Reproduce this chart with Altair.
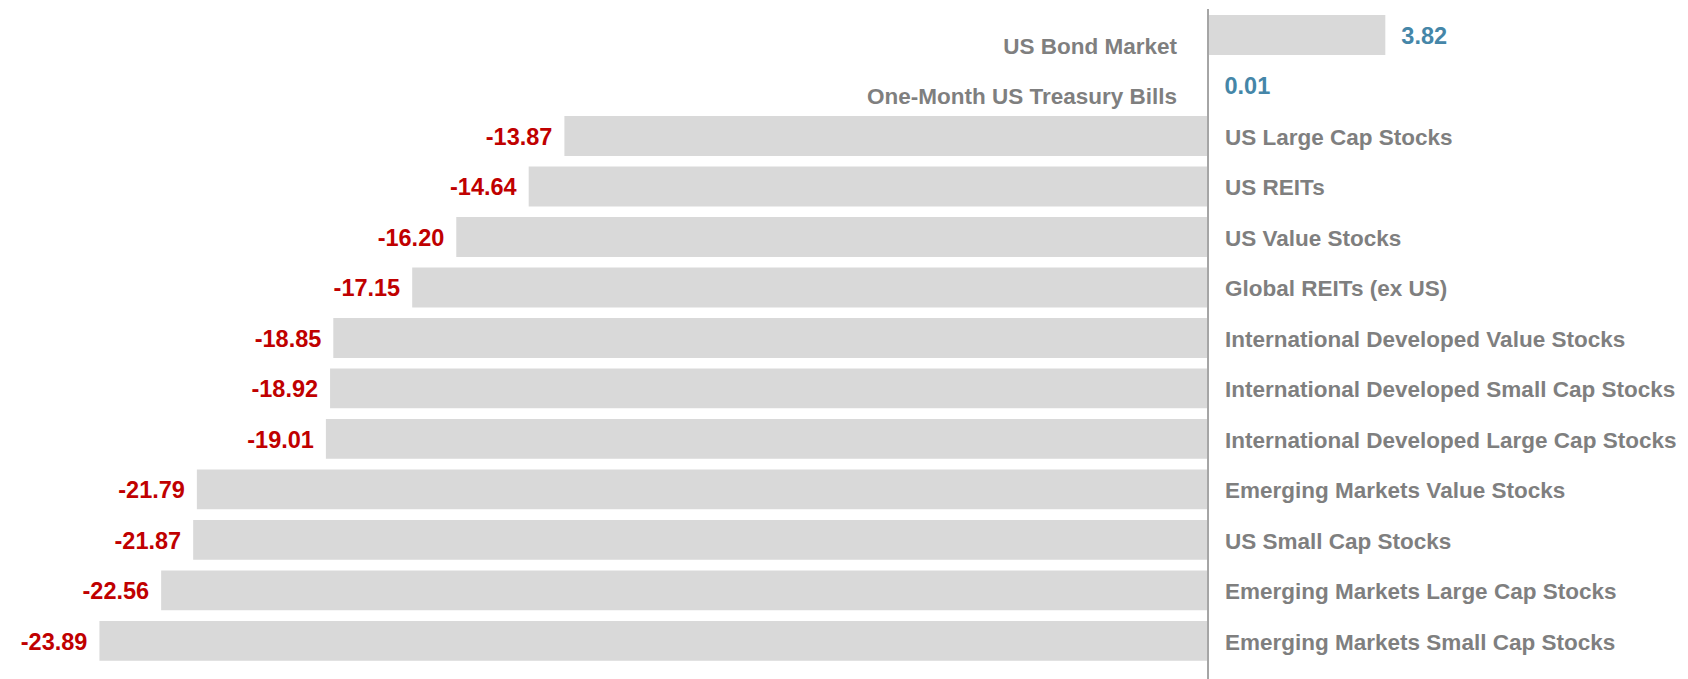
import altair as alt
import pandas as pd

categories = [
    "US Bond Market",
    "One-Month US Treasury Bills",
    "US Large Cap Stocks",
    "US REITs",
    "US Value Stocks",
    "Global REITs (ex US)",
    "International Developed Value Stocks",
    "International Developed Small Cap Stocks",
    "International Developed Large Cap Stocks",
    "Emerging Markets Value Stocks",
    "US Small Cap Stocks",
    "Emerging Markets Large Cap Stocks",
    "Emerging Markets Small Cap Stocks",
]
values = [3.82, 0.01, -13.87, -14.64, -16.20, -17.15, -18.85, -18.92, -19.01,
          -21.79, -21.87, -22.56, -23.89]

df = pd.DataFrame({"category": categories, "value": values})
df["label"] = df["value"].map(lambda v: f"{v:.2f}")
df["zero"] = 0.0

W, H = 1672, 670
xscale = alt.Scale(domain=[-25.86, 10.17], nice=False, zero=False)
yenc = alt.Y("category:N", sort=categories, axis=None,
             scale=alt.Scale(paddingInner=0.21, paddingOuter=0.24, align=0.25))

base = alt.Chart(df)

bars = base.mark_bar(color="#d9d9d9").encode(
    x=alt.X("value:Q", scale=xscale, axis=None),
    x2="zero:Q",
    y=yenc,
)

rule = base.mark_rule(color="#a6a6a6", strokeWidth=1.5).encode(
    x=alt.X("zero:Q", scale=xscale),
    y=alt.value(0),
    y2=alt.value(H),
)

neg = base.transform_filter("datum.value < 0")
pos = base.transform_filter("datum.value >= 0")

font = "Liberation Sans"

cat_neg = neg.mark_text(align="left", baseline="middle", dx=17, dy=2,
                        font=font, fontWeight="bold", fontSize=22.5,
                        color="#7f7f7f").encode(
    x=alt.X("zero:Q", scale=xscale), y=yenc, text="category:N")

cat_pos = pos.mark_text(align="right", baseline="middle", dx=-31, dy=12,
                        font=font, fontWeight="bold", fontSize=22.5,
                        color="#7f7f7f").encode(
    x=alt.X("zero:Q", scale=xscale), y=yenc, text="category:N")

val_neg = neg.mark_text(align="right", baseline="middle", dx=-12, dy=2,
                        font=font, fontWeight="bold", fontSize=23.5,
                        color="#c00000").encode(
    x=alt.X("value:Q", scale=xscale), y=yenc, text="label:N")

val_pos = pos.mark_text(align="left", baseline="middle", dx=16, dy=2,
                        font=font, fontWeight="bold", fontSize=23.5,
                        color="#4586a8").encode(
    x=alt.X("value:Q", scale=xscale), y=yenc, text="label:N")

chart = alt.layer(bars, rule, cat_neg, cat_pos, val_neg, val_pos).properties(
    width=W, height=H, padding=0
).configure_view(stroke=None)

chart.save("out.html", embed_options={"renderer": "svg", "actions": False})
